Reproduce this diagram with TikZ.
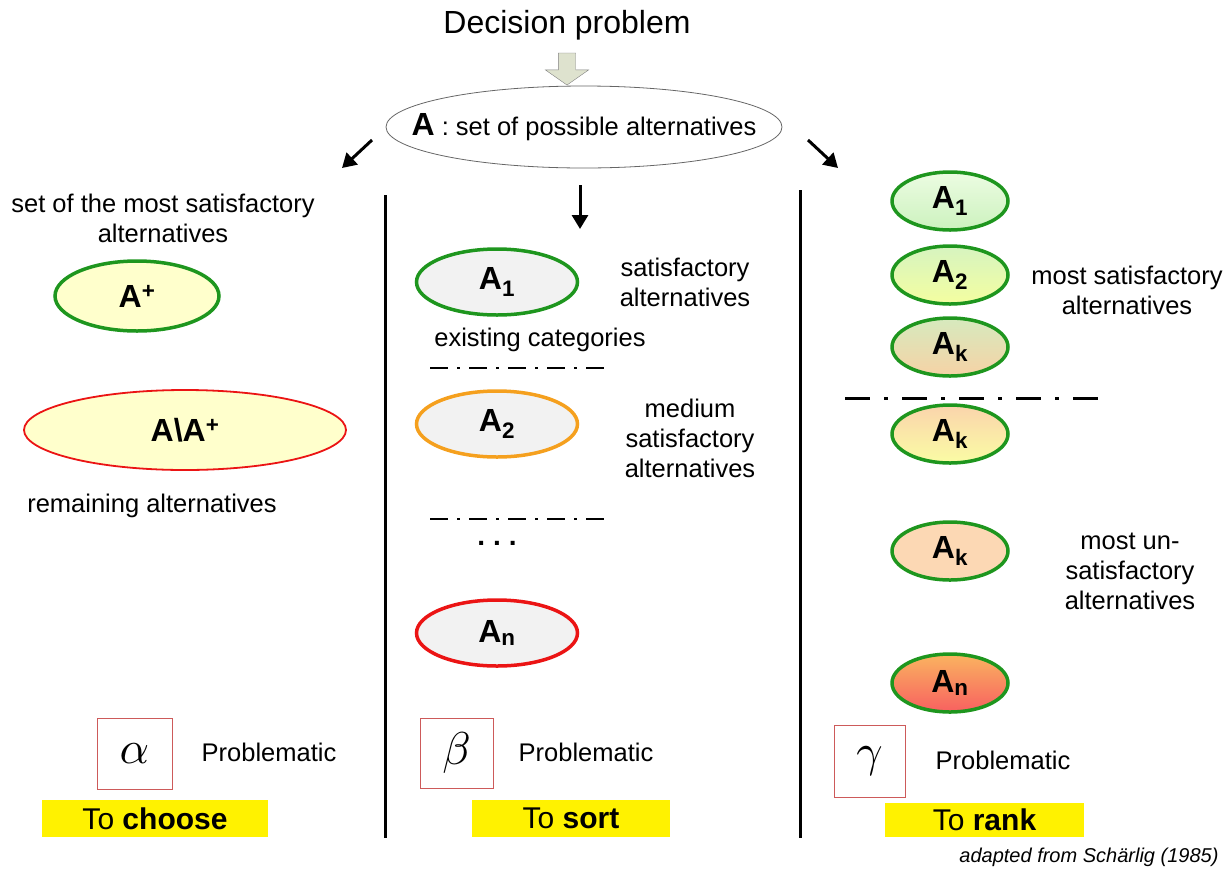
\documentclass[tikz,border=0pt]{standalone}
\usepackage{fontspec}
\setmainfont{Liberation Sans}
\usetikzlibrary{arrows.meta,shapes.geometric,shapes.arrows}

\definecolor{okgreen}{RGB}{30,150,30}
\definecolor{midorange}{RGB}{245,160,30}
\definecolor{badred}{RGB}{235,20,20}
\definecolor{paleyellow}{RGB}{255,255,204}
\definecolor{boxred}{RGB}{205,90,90}

\newcommand{\bigsym}[1]{\scalebox{4.6}{$#1$}}

\begin{document}
\begin{tikzpicture}[x=1pt,y=-1pt,
  txt/.style={font=\fontsize{25.5}{30}\selectfont,align=center},
  cat node/.style={ellipse,draw,line width=3.5pt,inner sep=0pt,
    minimum width=161pt,minimum height=66pt,fill=gray!10,
    font=\fontsize{32}{32}\selectfont\bfseries},
  rank node/.style={ellipse,draw=okgreen,line width=3.5pt,inner sep=0pt,
    minimum width=116pt,minimum height=58pt,
    font=\fontsize{32}{32}\selectfont\bfseries},
  greek box/.style={draw=boxred,line width=0.8pt,inner sep=0pt},
  todo box/.style={fill=yellow,inner sep=0pt,font=\fontsize{30}{32}\selectfont},
  sep line/.style={line width=3pt},
  cut line/.style={line width=1.5pt,dash pattern=on 18pt off 9pt on 3pt off 9pt},
  fat arrow/.style={line width=3pt,-{Triangle[length=14pt,width=16pt]}}]

  \useasboundingbox (0,0) rectangle (1231,868);

  % top
  \node[font=\fontsize{32}{34}\selectfont] (title) at (567,25) {Decision problem};
  \node[single arrow,draw=gray,fill={rgb,255:red,222;green,226;blue,206},
    rotate=-90,inner sep=8.5pt,single arrow head extend=13pt,
    single arrow tip angle=110,minimum height=32pt] (down) at (567,66) {};
  \node[ellipse,draw=gray!80!black,line width=0.8pt,inner sep=0pt,
    minimum width=396pt,minimum height=82pt] (setA) at (584,127) {};
  \node[txt] (setlbl) at (setA.center)
    {{\fontsize{32}{32}\selectfont\bfseries A} : set of possible alternatives};

  \coordinate (l0) at (372,140);
  \coordinate (l1) at (342,168);
  \coordinate (m0) at (580,185);
  \coordinate (m1) at (580,229);
  \coordinate (r0) at (808,140);
  \coordinate (r1) at (838,168);
  \draw[fat arrow] (l0) -- (l1);
  \draw[fat arrow] (m0) -- (m1);
  \draw[fat arrow] (r0) -- (r1);

  \draw[sep line] (385,195) -- (385,838);
  \draw[sep line] (800,190) -- (800,838);

  % choose
  \node[txt] (bestlbl) at (163,218) {set of the most satisfactory\\alternatives};
  \node[ellipse,draw=okgreen,line width=3.5pt,fill=paleyellow,inner sep=0pt,
    minimum width=164pt,minimum height=70pt,
    font=\fontsize{32}{32}\selectfont\bfseries] (aplus) at (137,296)
    {A\textsuperscript{+}};
  \node[ellipse,draw=badred,line width=1.8pt,fill=paleyellow,inner sep=0pt,
    minimum width=322pt,minimum height=80pt,
    font=\fontsize{32}{32}\selectfont\bfseries] (arest) at (185,430)
    {A\textbackslash A\textsuperscript{+}};
  \node[txt] (restlbl) at (152,506) {remaining alternatives};
  \node[greek box,minimum width=75pt,minimum height=71pt] (alphabox) at (134.5,753.5) {\bigsym{\alpha}};
  \node[txt] (probA) at (269,752) {Problematic};
  \node[todo box,minimum width=226pt,minimum height=37pt] (choose) at (155,818.5)
    {To \textbf{choose}};

  % sort
  \node[cat node,draw=okgreen] (sA1) at (497,282) {A\textsubscript{1}};
  \node[txt] (satlbl) at (685,282) {satisfactory\\alternatives};
  \node[txt] (catlbl) at (540,340) {existing categories};
  \draw[cut line] (430,368) -- (605,368);
  \node[cat node,draw=midorange] (sA2) at (497,424) {A\textsubscript{2}};
  \node[txt] (medlbl) at (690,438) {medium\\satisfactory\\alternatives};
  \draw[cut line] (430,519) -- (605,519);
  \node[anchor=base,font=\fontsize{28}{30}\selectfont\bfseries] (dots) at (497,545)
    {.\hspace{8pt}.\hspace{8pt}.};
  \node[cat node,draw=badred] (sAn) at (497,633) {A\textsubscript{n}};
  \node[greek box,minimum width=73pt,minimum height=70pt] (betabox) at (456.5,753) {\bigsym{\beta}};
  \node[txt] (probB) at (586,752) {Problematic};
  \node[todo box,minimum width=198pt,minimum height=37pt] (sort) at (571,818.5)
    {To \textbf{sort}};

  % rank
  \node[rank node,top color={rgb,255:red,236;green,252;blue,226},
    bottom color={rgb,255:red,204;green,242;blue,190}] (rA1) at (950,201) {A\textsubscript{1}};
  \node[rank node,top color={rgb,255:red,214;green,244;blue,192},
    bottom color={rgb,255:red,244;green,254;blue,160}] (rA2) at (950,275) {A\textsubscript{2}};
  \node[rank node,top color={rgb,255:red,214;green,234;blue,190},
    bottom color={rgb,255:red,246;green,210;blue,165}] (rAk1) at (950,347) {A\textsubscript{k}};
  \draw[line width=3pt,dash pattern=on 25pt off 14pt on 4pt off 14pt] (845,398) -- (1098,398);
  \node[rank node,top color={rgb,255:red,250;green,212;blue,172},
    bottom color={rgb,255:red,250;green,252;blue,164}] (rAk2) at (950,434) {A\textsubscript{k}};
  \node[rank node,fill={rgb,255:red,252;green,216;blue,180}] (rAk3) at (950,551) {A\textsubscript{k}};
  \node[rank node,top color={rgb,255:red,250;green,180;blue,96},
    bottom color={rgb,255:red,248;green,96;blue,96}] (rAn) at (950,683) {A\textsubscript{n}};
  \node[txt] (toplbl) at (1127,290) {most satisfactory\\alternatives};
  \node[txt] (lowlbl) at (1130,571) {most un-\\satisfactory\\alternatives};
  \node[greek box,minimum width=71pt,minimum height=72pt] (gammabox) at (869.5,761) {\bigsym{\gamma}};
  \node[txt] (probC) at (1003,760) {Problematic};
  \node[todo box,minimum width=199pt,minimum height=34pt] (rank) at (984.5,820)
    {To \textbf{rank}};

  \node[anchor=base east,font=\fontsize{20}{22}\selectfont\itshape] (credit) at (1222,862)
    {adapted from Schärlig (1985)};

\end{tikzpicture}
\end{document}
